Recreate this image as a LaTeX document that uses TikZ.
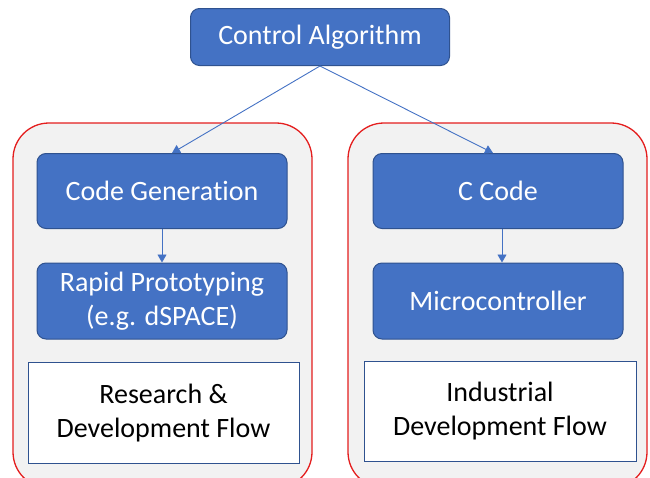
\documentclass[tikz,border=0pt]{standalone}
\usepackage{fontspec}
\setmainfont{Carlito}[Ligatures=NoCommon]
\usepackage{tikz}
\usetikzlibrary{arrows.meta}
\definecolor{boxblue}{HTML}{4472C4}
\definecolor{boxedge}{HTML}{2F528F}
\definecolor{framered}{HTML}{E41E1E}
\definecolor{framegray}{HTML}{F2F2F2}
\newcommand{\boxfont}{\fontsize{28}{34}\selectfont}
\tikzset{
  bluebox/.style={draw=boxedge, fill=boxblue, line width=1pt, rounded corners=9pt,
    text=white, font=\boxfont, align=center, minimum width=250pt, minimum height=75pt, inner sep=0pt},
  flowbox/.style={draw=boxedge, fill=white, line width=1pt,
    text=black, font=\boxfont, align=center, minimum width=271pt, minimum height=100pt, inner sep=0pt},
  frame/.style={draw=framered, fill=framegray, line width=1.3pt, rounded corners=36pt,
    minimum width=299pt, minimum height=365pt, inner sep=0pt},
  link/.style={draw=boxblue, line width=0.9pt, -{Triangle[width=9pt,length=8pt]}}
}

\begin{document}
\begin{tikzpicture}[x=1pt,y=-1pt]
        \useasboundingbox (0,0) rectangle (650,477);
        \clip (0,0) rectangle (650,477);
        \node (leftframe) at (162.5,305.5) [frame] {};
        \node (rightframe) at (497.5,305.5) [frame] {};
        \node (ctrl) at (320,37) [bluebox, minimum width=259pt, minimum height=57pt] {Control Algorithm};
        \node (codegen) at (162,191) [bluebox] {Code Generation};
        \node (rapid) at (162,301) [bluebox, minimum height=76pt] {Rapid Prototyping\\(e.g. dSPACE)};
        \node (rdflow) at (163.5,413) [flowbox, minimum height=101pt] {Research \&\\Development Flow};
        \node (ccode) at (498,191) [bluebox] {C Code};
        \node (micro) at (498,301) [bluebox, minimum height=76pt] {Microcontroller};
        \node (indflow) at (500,411) [flowbox, minimum width=272pt] {Industrial\\Development Flow};
        \draw[link] (ctrl.south) to ([xshift=10pt]codegen.north);
        \draw[link] (ctrl.south) to ([xshift=-5pt]ccode.north);
        \draw[link] (codegen.south) to (rapid.north);
        \draw[link] ([xshift=4pt]ccode.south) to ([xshift=4pt]micro.north);
\end{tikzpicture}
\end{document}
